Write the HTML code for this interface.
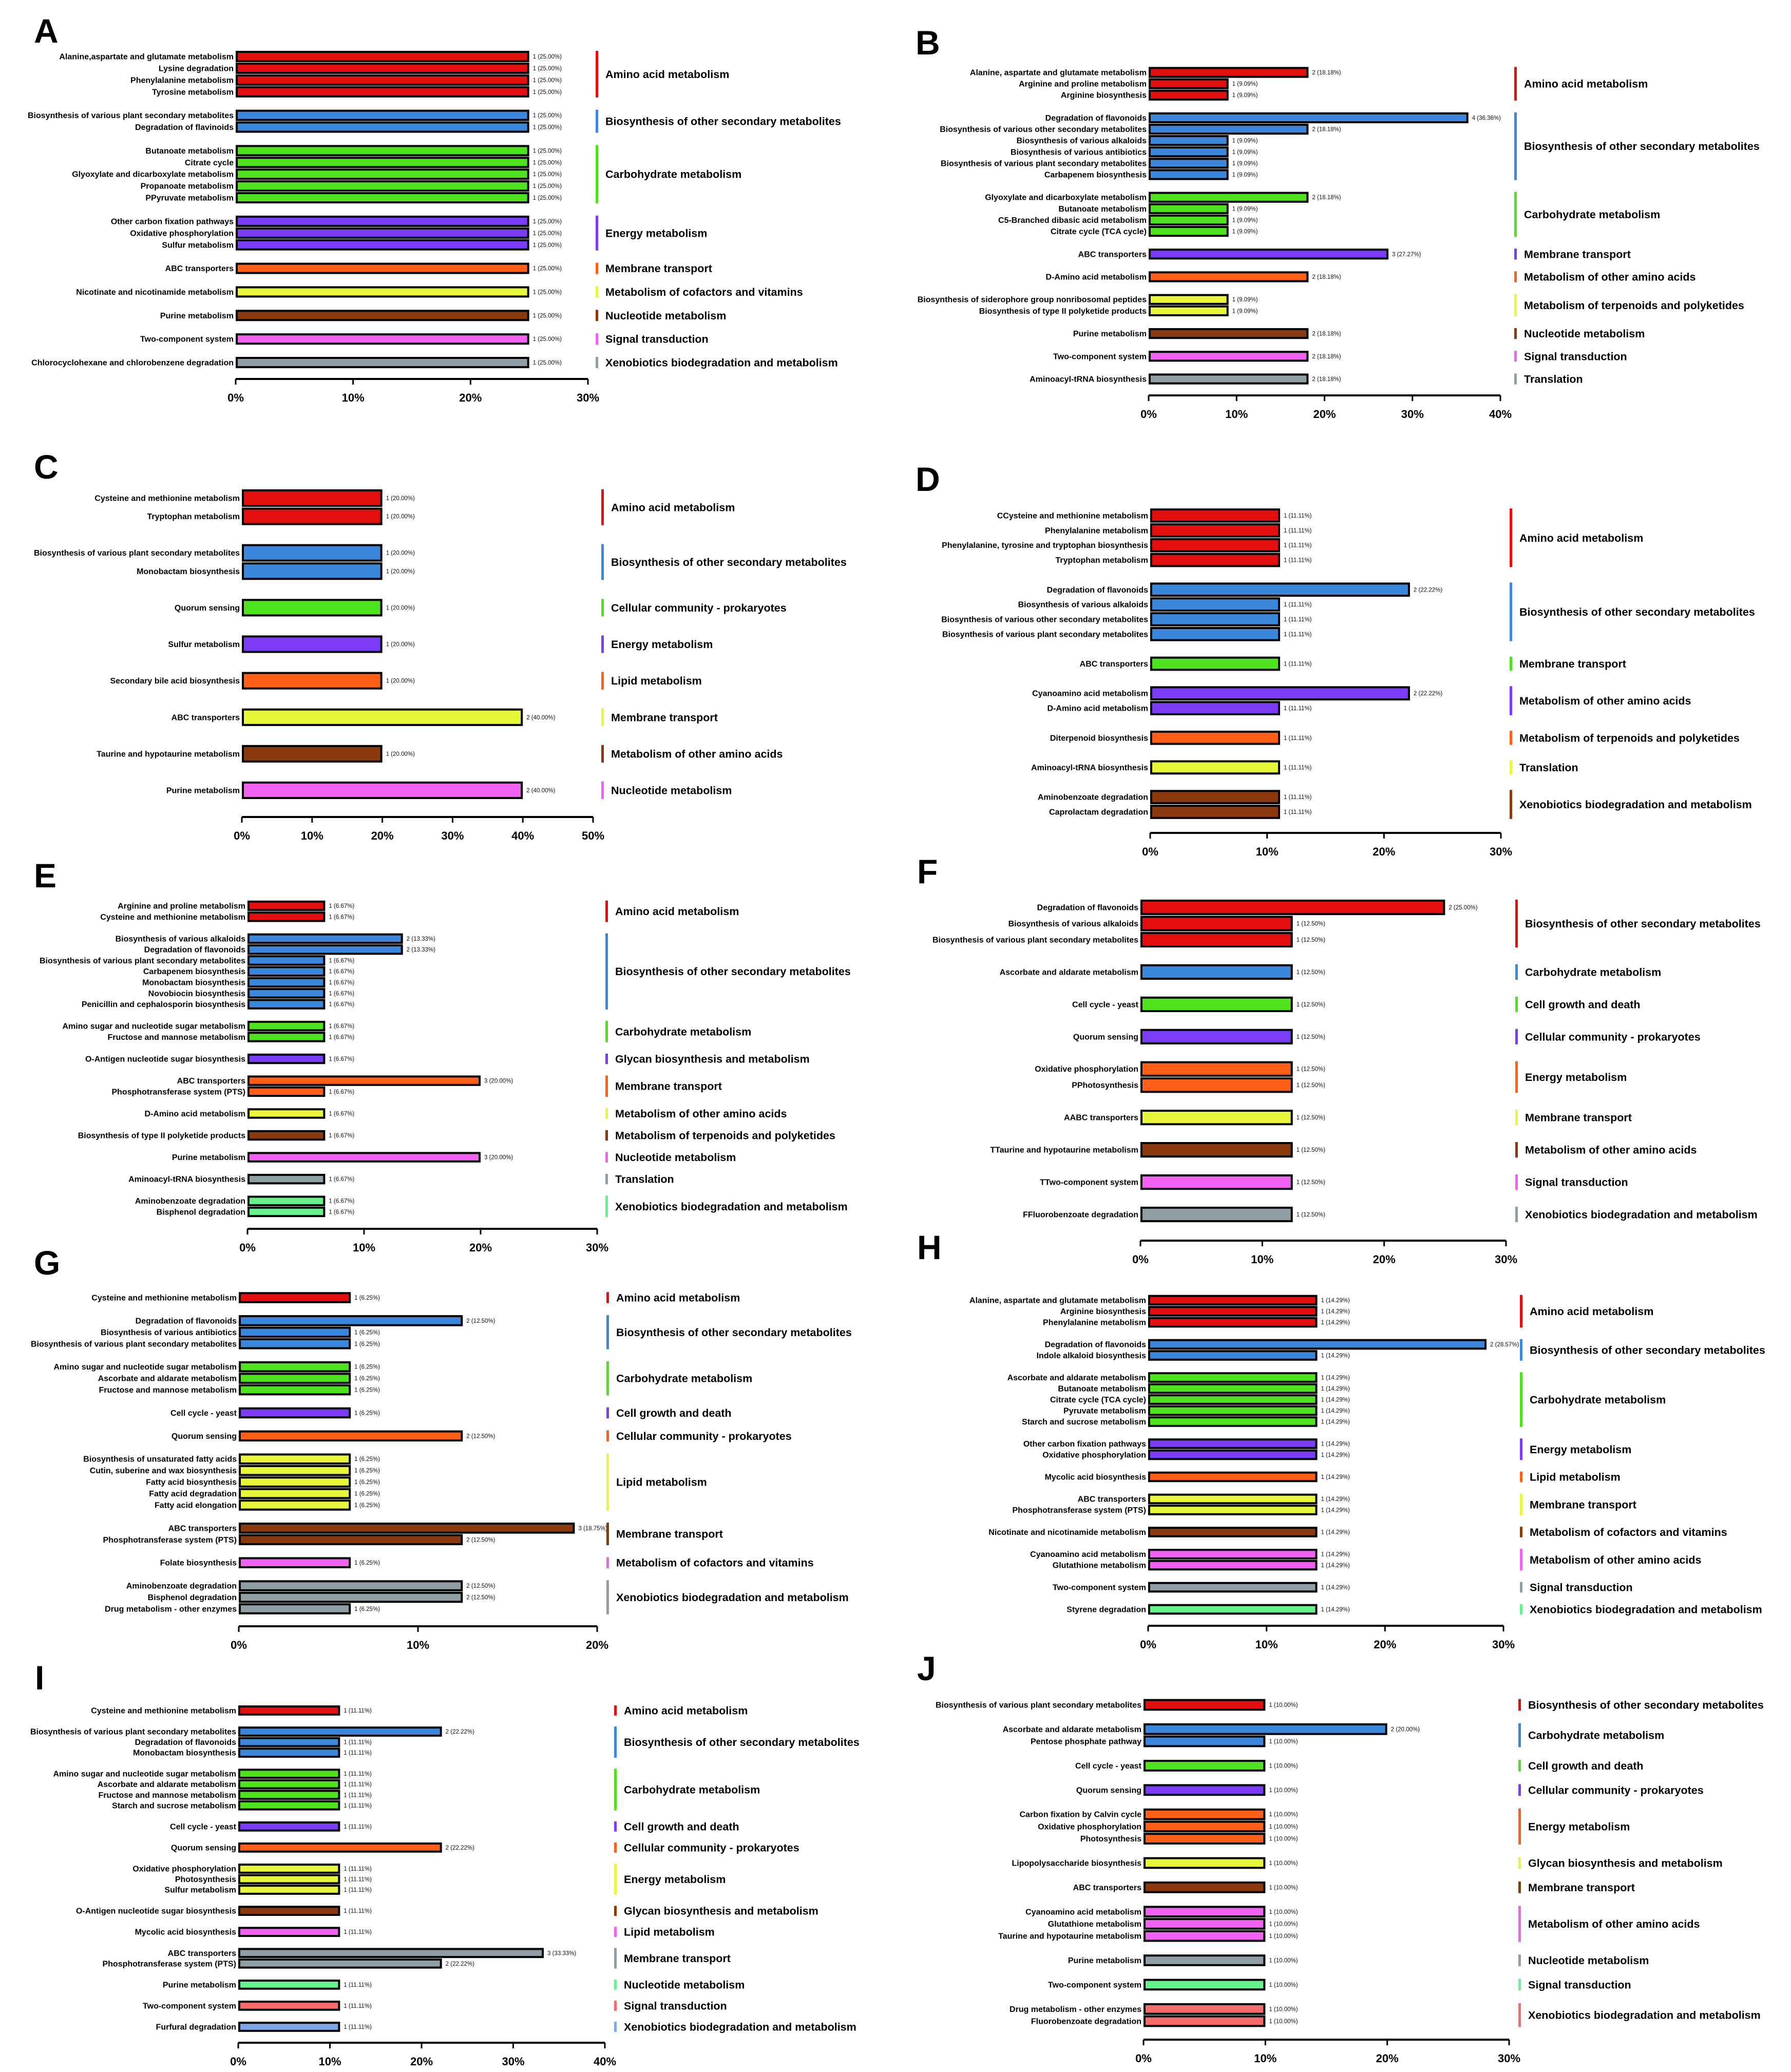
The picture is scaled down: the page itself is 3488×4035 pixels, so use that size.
<!DOCTYPE html>
<html><head><meta charset="utf-8"><style>
html,body{margin:0;padding:0;background:#fff;}
svg text{font-family:"Liberation Sans",Arial,sans-serif;}
</style></head>
<body>
<svg id="fig" xmlns="http://www.w3.org/2000/svg" width="3488" height="4030" viewBox="0 0 3488 4030">
<rect width="3488" height="4030" fill="#fff"/>
</svg>
<script>
// ---------------- data ----------------
const aLabels=["Alanine,aspartate and glutamate metabolism","Lysine degradation","Phenylalanine metabolism","Tyrosine metabolism","Biosynthesis of various plant secondary metabolites","Degradation of flavinoids","Butanoate metabolism","Citrate cycle","Glyoxylate and dicarboxylate metabolism","Propanoate metabolism","PPyruvate metabolism","Other carbon fixation pathways","Oxidative phosphorylation","Sulfur metabolism","ABC transporters","Nicotinate and nicotinamide metabolism","Purine metabolism","Two-component system","Chlorocyclohexane and chlorobenzene degradation"];
const aCounts=[1,1,1,1,1,1,1,1,1,1,1,1,1,1,1,1,1,1,1];
const aGroups=[0,0,0,0,1,1,2,2,2,2,2,3,3,3,4,5,6,7,8];
const aGroupNames=["Amino acid metabolism","Biosynthesis of other secondary metabolites","Carbohydrate metabolism","Energy metabolism","Membrane transport","Metabolism of cofactors and vitamins","Nucleotide metabolism","Signal transduction","Xenobiotics biodegradation and metabolism"];
const aTotal=4;
const aTicks=[0,10,20,30];

const bLabels=["Alanine, aspartate and glutamate metabolism","Arginine and proline metabolism","Arginine biosynthesis","Degradation of flavonoids","Biosynthesis of various other secondary metabolites","Biosynthesis of various alkaloids","Biosynthesis of various antibiotics","Biosynthesis of various plant secondary metabolites","Carbapenem biosynthesis","Glyoxylate and dicarboxylate metabolism","Butanoate metabolism","C5-Branched dibasic acid metabolism","Citrate cycle (TCA cycle)","ABC transporters","D-Amino acid metabolism","Biosynthesis of siderophore group nonribosomal peptides","Biosynthesis of type II polyketide products","Purine metabolism","Two-component system","Aminoacyl-tRNA biosynthesis"];
const bCounts=[2,1,1,4,2,1,1,1,1,2,1,1,1,3,2,1,1,2,2,2];
const bGroups=[0,0,0,1,1,1,1,1,1,2,2,2,2,3,4,5,5,6,7,8];
const bGroupNames=["Amino acid metabolism","Biosynthesis of other secondary metabolites","Carbohydrate metabolism","Membrane transport","Metabolism of other amino acids","Metabolism of terpenoids and polyketides","Nucleotide metabolism","Signal transduction","Translation"];
const bTotal=11;
const bTicks=[0,10,20,30,40];

const cLabels=["Cysteine and methionine metabolism","Tryptophan metabolism","Biosynthesis of various plant secondary metabolites","Monobactam biosynthesis","Quorum sensing","Sulfur metabolism","Secondary bile acid biosynthesis","ABC transporters","Taurine and hypotaurine metabolism","Purine metabolism"];
const cCounts=[1,1,1,1,1,1,1,2,1,2];
const cGroups=[0,0,1,1,2,3,4,5,6,7];
const cGroupNames=["Amino acid metabolism","Biosynthesis of other secondary metabolites","Cellular community - prokaryotes","Energy metabolism","Lipid metabolism","Membrane transport","Metabolism of other amino acids","Nucleotide metabolism"];
const cTotal=5;
const cTicks=[0,10,20,30,40,50];

const dLabels=["CCysteine and methionine metabolism","Phenylalanine metabolism","Phenylalanine, tyrosine and tryptophan biosynthesis","Tryptophan metabolism","Degradation of flavonoids","Biosynthesis of various alkaloids","Biosynthesis of various other secondary metabolites","Biosynthesis of various plant secondary metabolites","ABC transporters","Cyanoamino acid metabolism","D-Amino acid metabolism","Diterpenoid biosynthesis","Aminoacyl-tRNA biosynthesis","Aminobenzoate degradation","Caprolactam degradation"];
const dCounts=[1,1,1,1,2,1,1,1,1,2,1,1,1,1,1];
const dGroups=[0,0,0,0,1,1,1,1,2,3,3,4,5,6,6];
const dGroupNames=["Amino acid metabolism","Biosynthesis of other secondary metabolites","Membrane transport","Metabolism of other amino acids","Metabolism of terpenoids and polyketides","Translation","Xenobiotics biodegradation and metabolism"];
const dTotal=9;
const dTicks=[0,10,20,30];

const eLabels=["Arginine and proline metabolism","Cysteine and methionine metabolism","Biosynthesis of various alkaloids","Degradation of flavonoids","Biosynthesis of various plant secondary metabolites","Carbapenem biosynthesis","Monobactam biosynthesis","Novobiocin biosynthesis","Penicillin and cephalosporin biosynthesis","Amino sugar and nucleotide sugar metabolism","Fructose and mannose metabolism","O-Antigen nucleotide sugar biosynthesis","ABC transporters","Phosphotransferase system (PTS)","D-Amino acid metabolism","Biosynthesis of type II polyketide products","Purine metabolism","Aminoacyl-tRNA biosynthesis","Aminobenzoate degradation","Bisphenol degradation"];
const eCounts=[1,1,2,2,1,1,1,1,1,1,1,1,3,1,1,1,3,1,1,1];
const eGroups=[0,0,1,1,1,1,1,1,1,2,2,3,4,4,5,6,7,8,9,9];
const eGroupNames=["Amino acid metabolism","Biosynthesis of other secondary metabolites","Carbohydrate metabolism","Glycan biosynthesis and metabolism","Membrane transport","Metabolism of other amino acids","Metabolism of terpenoids and polyketides","Nucleotide metabolism","Translation","Xenobiotics biodegradation and metabolism"];
const eTotal=15;
const eTicks=[0,10,20,30];

const fLabels=["Degradation of flavonoids","Biosynthesis of various alkaloids","Biosynthesis of various plant secondary metabolites","Ascorbate and aldarate metabolism","Cell cycle - yeast","Quorum sensing","Oxidative phosphorylation","PPhotosynthesis","AABC transporters","TTaurine and hypotaurine metabolism","TTwo-component system","FFluorobenzoate degradation"];
const fCounts=[2,1,1,1,1,1,1,1,1,1,1,1];
const fGroups=[0,0,0,1,2,3,4,4,5,6,7,8];
const fGroupNames=["Biosynthesis of other secondary metabolites","Carbohydrate metabolism","Cell growth and death","Cellular community - prokaryotes","Energy metabolism","Membrane transport","Metabolism of other amino acids","Signal transduction","Xenobiotics biodegradation and metabolism"];
const fTotal=8;
const fTicks=[0,10,20,30];

const gLabels=["Cysteine and methionine metabolism","Degradation of flavonoids","Biosynthesis of various antibiotics","Biosynthesis of various plant secondary metabolites","Amino sugar and nucleotide sugar metabolism","Ascorbate and aldarate metabolism","Fructose and mannose metabolism","Cell cycle - yeast","Quorum sensing","Biosynthesis of unsaturated fatty acids","Cutin, suberine and wax biosynthesis","Fatty acid biosynthesis","Fatty acid degradation","Fatty acid elongation","ABC transporters","Phosphotransferase system (PTS)","Folate biosynthesis","Aminobenzoate degradation","Bisphenol degradation","Drug metabolism - other enzymes"];
const gCounts=[1,2,1,1,1,1,1,1,2,1,1,1,1,1,3,2,1,2,2,1];
const gGroups=[0,1,1,1,2,2,2,3,4,5,5,5,5,5,6,6,7,8,8,8];
const gGroupNames=["Amino acid metabolism","Biosynthesis of other secondary metabolites","Carbohydrate metabolism","Cell growth and death","Cellular community - prokaryotes","Lipid metabolism","Membrane transport","Metabolism of cofactors and vitamins","Xenobiotics biodegradation and metabolism"];
const gTotal=16;
const gTicks=[0,10,20];

const hLabels=["Alanine, aspartate and glutamate metabolism","Arginine biosynthesis","Phenylalanine metabolism","Degradation of flavonoids","Indole alkaloid biosynthesis","Ascorbate and aldarate metabolism","Butanoate metabolism","Citrate cycle (TCA cycle)","Pyruvate metabolism","Starch and sucrose metabolism","Other carbon fixation pathways","Oxidative phosphorylation","Mycolic acid biosynthesis","ABC transporters","Phosphotransferase system (PTS)","Nicotinate and nicotinamide metabolism","Cyanoamino acid metabolism","Glutathione metabolism","Two-component system","Styrene degradation"];
const hCounts=[1,1,1,2,1,1,1,1,1,1,1,1,1,1,1,1,1,1,1,1];
const hGroups=[0,0,0,1,1,2,2,2,2,2,3,3,4,5,5,6,7,7,8,9];
const hGroupNames=["Amino acid metabolism","Biosynthesis of other secondary metabolites","Carbohydrate metabolism","Energy metabolism","Lipid metabolism","Membrane transport","Metabolism of cofactors and vitamins","Metabolism of other amino acids","Signal transduction","Xenobiotics biodegradation and metabolism"];
const hTotal=7;
const hTicks=[0,10,20,30];

const iLabels=["Cysteine and methionine metabolism","Biosynthesis of various plant secondary metabolites","Degradation of flavonoids","Monobactam biosynthesis","Amino sugar and nucleotide sugar metabolism","Ascorbate and aldarate metabolism","Fructose and mannose metabolism","Starch and sucrose metabolism","Cell cycle - yeast","Quorum sensing","Oxidative phosphorylation","Photosynthesis","Sulfur metabolism","O-Antigen nucleotide sugar biosynthesis","Mycolic acid biosynthesis","ABC transporters","Phosphotransferase system (PTS)","Purine metabolism","Two-component system","Furfural degradation"];
const iCounts=[1,2,1,1,1,1,1,1,1,2,1,1,1,1,1,3,2,1,1,1];
const iGroups=[0,1,1,1,2,2,2,2,3,4,5,5,5,6,7,8,8,9,10,11];
const iGroupNames=["Amino acid metabolism","Biosynthesis of other secondary metabolites","Carbohydrate metabolism","Cell growth and death","Cellular community - prokaryotes","Energy metabolism","Glycan biosynthesis and metabolism","Lipid metabolism","Membrane transport","Nucleotide metabolism","Signal transduction","Xenobiotics biodegradation and metabolism"];
const iTotal=9;
const iTicks=[0,10,20,30,40];

const jLabels=["Biosynthesis of various plant secondary metabolites","Ascorbate and aldarate metabolism","Pentose phosphate pathway","Cell cycle - yeast","Quorum sensing","Carbon fixation by Calvin cycle","Oxidative phosphorylation","Photosynthesis","Lipopolysaccharide biosynthesis","ABC transporters","Cyanoamino acid metabolism","Glutathione metabolism","Taurine and hypotaurine metabolism","Purine metabolism","Two-component system","Drug metabolism - other enzymes","Fluorobenzoate degradation"];
const jCounts=[1,2,1,1,1,1,1,1,1,1,1,1,1,1,1,1,1];
const jGroups=[0,1,1,2,3,4,4,4,5,6,7,7,7,8,9,10,10];
const jGroupNames=["Biosynthesis of other secondary metabolites","Carbohydrate metabolism","Cell growth and death","Cellular community - prokaryotes","Energy metabolism","Glycan biosynthesis and metabolism","Membrane transport","Metabolism of other amino acids","Nucleotide metabolism","Signal transduction","Xenobiotics biodegradation and metabolism"];
const jTotal=10;
const jTicks=[0,10,20,30];

const palette=["#e30f0f","#3a87db","#4fe31f","#7b3cf7","#ff5f17","#e8f73a","#8a3a0c","#f262f2","#8f9fa5","#66f28c","#f76b6b","#7da8e8"];

// ---------------- drawing ----------------
const NS="http://www.w3.org/2000/svg";
const svg=document.getElementById('fig');
function mk(tag,attrs,parent,txt){
  const e=document.createElementNS(NS,tag);
  for(const k in attrs) e.setAttribute(k,attrs[k]);
  if(txt!==undefined) e.textContent=txt;
  (parent||svg).appendChild(e);
  return e;
}

function drawPanel(letter,lx,ly,geom,labels,counts,groups,groupNames,total,ticks){
  const g=mk('g',{});
  
  
  const L=mk('text',{x:lx,y:ly,'font-size':66,'font-weight':'bold',fill:'#000'},g,letter);
  
  
  const xmax=ticks[ticks.length-1];
  const xs=v=>geom.x0+(geom.x1-geom.x0)*v/xmax;
  const n=labels.length, G=groupNames.length;
  const u=(geom.last-geom.first)/((n-1)+(G-1));
  const ys=i=>geom.first+(i+groups[i])*u;
  const bh=0.96*u;
  for(let i=0;i<n;i++){
    const pct=counts[i]/total*100;
    const y=ys(i);
    const col=palette[groups[i]];
    const r=mk('rect',{x:geom.x0+2,y:y-bh/2+2,width:Math.max(0,xs(pct)-geom.x0-4),height:bh-4,fill:col,stroke:'#000','stroke-width':4},g);
    
    
    const t=mk('text',{x:geom.x0-4,y:y+5.5,'font-size':16,'font-weight':'bold','text-anchor':'end',fill:'#000'},g,labels[i]);
    
    
    const v=mk('text',{x:xs(pct)+7,y:y+4,'font-size':11.5,fill:'#111'},g,counts[i]+' ('+pct.toFixed(2)+'%)');
    
    
  }
  for(let k=0;k<G;k++){
    const idx=[];for(let i=0;i<n;i++) if(groups[i]===k) idx.push(i);
    const y0=ys(idx[0])-bh/2, y1=ys(idx[idx.length-1])+bh/2;
    const lb=mk('rect',{x:geom.lg,y:y0,width:5,height:y1-y0,fill:palette[k]},g);
    
    
    const lt=mk('text',{x:geom.lg+19,y:(y0+y1)/2+7.5,'font-size':21.5,'font-weight':'bold',fill:'#000'},g,groupNames[k]);
    
    
  }
  const ax=mk('line',{x1:geom.x0,x2:geom.x1,y1:geom.ay,y2:geom.ay,stroke:'#000','stroke-width':4},g);
  
  
  for(const tv of ticks){
    const tk=mk('line',{x1:xs(tv),x2:xs(tv),y1:geom.ay,y2:geom.ay+11,stroke:'#000','stroke-width':3},g);
    
    
    const tl=mk('text',{x:xs(tv),y:geom.ay+44,'font-size':22,'font-weight':'bold','text-anchor':'middle',fill:'#000'},g,tv+'%');
    
    
  }
}

drawPanel('A',66,83,{x0:459,x1:1145,ay:738,first:110,last:706,lg:1160},aLabels,aCounts,aGroups,aGroupNames,aTotal,aTicks);
drawPanel('B',1783,106,{x0:2237,x1:2922,ay:770,first:141,last:738,lg:2949},bLabels,bCounts,bGroups,bGroupNames,bTotal,bTicks);
drawPanel('C',66,932,{x0:471,x1:1155,ay:1591,first:970,last:1539,lg:1171},cLabels,cCounts,cGroups,cGroupNames,cTotal,cTicks);
drawPanel('D',1783,956,{x0:2240,x1:2923,ay:1622,first:1004,last:1581,lg:2940},dLabels,dCounts,dGroups,dGroupNames,dTotal,dTicks);
drawPanel('E',66,1728,{x0:482,x1:1163,ay:2393,first:1764,last:2360,lg:1179},eLabels,eCounts,eGroups,eGroupNames,eTotal,eTicks);
drawPanel('F',1786,1720,{x0:2221,x1:2933,ay:2416,first:1767,last:2365,lg:2951},fLabels,fCounts,fGroups,fGroupNames,fTotal,fTicks);
drawPanel('G',66,2482,{x0:465,x1:1163,ay:3167,first:2527,last:3133,lg:1181},gLabels,gCounts,gGroups,gGroupNames,gTotal,gTicks);
drawPanel('H',1786,2452,{x0:2236,x1:2928,ay:3166,first:2532,last:3134,lg:2960},hLabels,hCounts,hGroups,hGroupNames,hTotal,hTicks);
drawPanel('I',68,3290,{x0:464,x1:1178,ay:3978,first:3331,last:3947,lg:1196},iLabels,iCounts,iGroups,iGroupNames,iTotal,iTicks);
drawPanel('J',1786,3272,{x0:2227,x1:2939,ay:3972,first:3320,last:3936,lg:2957},jLabels,jCounts,jGroups,jGroupNames,jTotal,jTicks);
</script>
</body></html>
